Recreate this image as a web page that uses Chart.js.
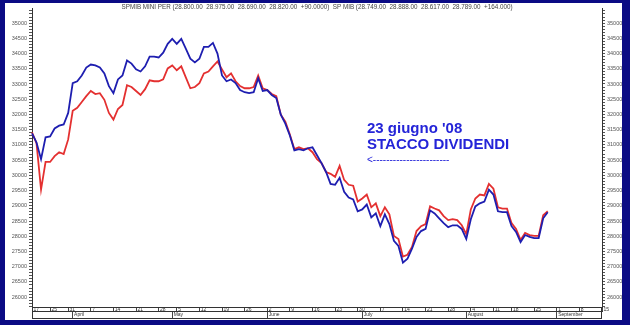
<!DOCTYPE html>
<html>
<head>
<meta charset="utf-8">
<script src="https://cdn.jsdelivr.net/npm/chart.js@4.4.1/dist/chart.umd.min.js"></script>
<style>
  html, body { margin: 0; padding: 0; background: #0b0b84; width: 630px; height: 325px; overflow: hidden; }
  #frame { position: absolute; left: 5px; top: 3px; width: 617px; height: 317px; background: #fff; }
</style>
</head>
<body>
<div id="frame"><canvas id="chart" width="617" height="317"></canvas></div>
<script>
// trading calendar (Borsa Italiana, 2008)
const firstDay = [2008, 2, 17];
const lastDay = [2008, 8, 15];
const holidays = ['2008-03-21', '2008-03-24', '2008-05-01', '2008-08-15'];
const monthNames = ['January', 'February', 'March', 'April', 'May', 'June', 'July',
                    'August', 'September', 'October', 'November', 'December'];

// y axis ticks
const yMin = 25676, yMax = 35486;
const yTickFrom = 25700, yTickTo = 35400, yTickStep = 100, yLabelEvery = 500;

// S&P MIB index (blue)
const spmib = [
  31380, 31080, 30530, 31250, 31280, 31540, 31630, 31670, 32050, 33030,
  33090, 33280, 33540, 33640, 33610, 33540, 33350, 32930, 32700, 33150,
  33280, 33770, 33670, 33480, 33410, 33580, 33900, 33900, 33870, 34030,
  34320, 34480, 34320, 34480, 34160, 33830, 33710, 33830, 34220, 34220,
  34350, 34000, 33280, 33090, 33150, 33030, 32800, 32730, 32700, 32730,
  33190, 32770, 32800, 32640, 32540, 31990, 31700, 31310, 30820, 30860,
  30820, 30890, 30920, 30660, 30400, 30110, 29720, 29690, 29920, 29460,
  29270, 29210, 28820, 28880, 29040, 28620, 28750, 28330, 28720, 28400,
  27850, 27680, 27130, 27260, 27590, 27980, 28170, 28240, 28850, 28750,
  28590, 28430, 28300, 28360, 28360, 28240, 27910, 28560, 28980, 29080,
  29140, 29530, 29370, 28820, 28790, 28790, 28330, 28140, 27810, 28040,
  27980, 27940, 27940, 28590, 28790
];

// S&P MIB mini future (red)
const miniFuture = [
  31410, 31050, 29530, 30440, 30440, 30630, 30760, 30700, 31180, 32120,
  32220, 32410, 32600, 32770, 32670, 32700, 32480, 32050, 31830, 32180,
  32310, 32960, 32900, 32770, 32640, 32830, 33120, 33090, 33090, 33150,
  33510, 33610, 33450, 33580, 33220, 32860, 32900, 33030, 33350, 33410,
  33580, 33740, 33480, 33220, 33350, 33090, 32930, 32860, 32860, 32900,
  33280, 32860, 32800, 32670, 32600, 31990, 31760, 31340, 30860, 30920,
  30860, 30890, 30760, 30530, 30400, 30110, 30050, 29950, 30310, 29850,
  29690, 29660, 29140, 29240, 29370, 28950, 29080, 28660, 28950, 28720,
  28010, 27910, 27330, 27390, 27650, 28170, 28330, 28400, 28980, 28910,
  28850, 28660, 28530, 28560, 28530, 28360, 28070, 28880, 29240, 29370,
  29340, 29720, 29560, 28950, 28910, 28910, 28430, 28240, 27880, 28110,
  28040, 28010, 28010, 28690, 28820
];

const titleText = 'SPMIB MINI PER (28.800.00  28.975.00  28.690.00  28.820.00  +90.0000)  SP MIB (28.749.00  28.888.00  28.617.00  28.789.00  +164.000)';
const noteLines = ["23 giugno '08", 'STACCO DIVIDENDI'];
const noteArrow = '<-----------------------';

// build the list of trading days
function iso(d) { return d.toISOString().slice(0, 10); }
const tradingDays = [];
for (let d = new Date(Date.UTC(...firstDay)); d <= new Date(Date.UTC(...lastDay)); d.setUTCDate(d.getUTCDate() + 1)) {
    const dow = d.getUTCDay();
    if (dow === 0 || dow === 6 || holidays.includes(iso(d))) continue;
    tradingDays.push(iso(d));
}

function weekStart(s) {
    const d = new Date(s + 'T00:00:00Z');
    d.setUTCDate(d.getUTCDate() - (d.getUTCDay() + 6) % 7);
    return iso(d);
}

const font = '"Liberation Sans", Arial, sans-serif';

// title, note and bottom box drawn over the chart
const overlay = {
    id: 'overlay',
    afterDraw(chart) {
        const { ctx, chartArea } = chart;
        const x2 = chart.scales.x2;
        ctx.save();
        ctx.fillStyle = '#444';
        ctx.font = '6.3px ' + font;
        ctx.textAlign = 'center';
        ctx.textBaseline = 'middle';
        ctx.fillText(titleText, (chartArea.left + chartArea.right) / 2, 4.5);

        ctx.fillStyle = '#2424d8';
        ctx.textAlign = 'left';
        ctx.font = 'bold 15px ' + font;
        ctx.fillText(noteLines[0], 362, 126);
        ctx.fillText(noteLines[1], 362, 142);
        ctx.font = '10px ' + font;
        ctx.fillText(noteArrow, 362, 157);

        ctx.strokeStyle = '#333';
        ctx.lineWidth = 1;
        ctx.beginPath();
        ctx.moveTo(chartArea.left, x2.bottom - 0.5);
        ctx.lineTo(chartArea.right, x2.bottom - 0.5);
        ctx.moveTo(chartArea.left + 0.5, chartArea.bottom);
        ctx.lineTo(chartArea.left + 0.5, x2.bottom);
        ctx.moveTo(chartArea.right - 0.5, chartArea.bottom);
        ctx.lineTo(chartArea.right - 0.5, x2.bottom);
        ctx.stroke();
        ctx.restore();
    }
};

function yAxis(position, width) {
    return {
        type: 'linear',
        position: position,
        min: yMin,
        max: yMax,
        afterBuildTicks: axis => {
            const ticks = [];
            for (let v = yTickFrom; v <= yTickTo; v += yTickStep) ticks.push({ value: v });
            axis.ticks = ticks;
        },
        afterFit: scale => { scale.width = width; },
        border: { color: '#333', width: 1 },
        grid: { drawOnChartArea: false, tickLength: 3, color: '#555' },
        ticks: {
            autoSkip: false,
            padding: 2,
            color: '#555',
            font: { family: font, size: 5.5 },
            callback: v => (v % yLabelEvery === 0 ? String(v) : '')
        }
    };
}

const ctx = document.getElementById('chart').getContext('2d');
new Chart(ctx, {
    type: 'line',
    data: {
        labels: tradingDays,
        datasets: [
            { label: 'SP MIB', data: spmib, borderColor: '#1e1eb0', borderWidth: 1.8, pointRadius: 0, tension: 0, yAxisID: 'y' },
            { label: 'SPMIB MINI', data: miniFuture, borderColor: '#e43030', borderWidth: 1.8, pointRadius: 0, tension: 0, yAxisID: 'y' }
        ]
    },
    options: {
        responsive: false,
        animation: false,
        layout: { padding: { left: 3, right: 0, top: 1, bottom: 1 } },
        plugins: { legend: { display: false }, tooltip: { enabled: false } },
        scales: {
            x: {
                type: 'category',
                position: 'bottom',
                weight: 0,
                afterFit: scale => { scale.height = 4.5; },
                border: { color: '#333', width: 1 },
                grid: { drawOnChartArea: false, tickLength: 4.5, color: '#444', offset: false },
                offset: false,
                ticks: {
                    autoSkip: false,
                    maxRotation: 0,
                    align: 'start',
                    padding: -4.5,
                    color: '#333',
                    font: { family: font, size: 5 },
                    callback: function (value, index) {
                        const day = tradingDays[index];
                        if (index > 0 && weekStart(day) === weekStart(tradingDays[index - 1])) return null;
                        return ' ' + Number(day.slice(8));
                    }
                }
            },
            x2: {
                type: 'category',
                position: 'bottom',
                weight: 1,
                afterFit: scale => { scale.height = 7.5; },
                border: { color: '#333', width: 1 },
                grid: { drawOnChartArea: false, tickLength: 7.5, color: '#444', offset: false },
                offset: false,
                ticks: {
                    autoSkip: false,
                    maxRotation: 0,
                    align: 'start',
                    padding: -7,
                    color: '#333',
                    font: { family: font, size: 5 },
                    callback: function (value, index) {
                        const day = tradingDays[index];
                        if (index === 0 || day.slice(5, 7) === tradingDays[index - 1].slice(5, 7)) return null;
                        return ' ' + monthNames[Number(day.slice(5, 7)) - 1];
                    }
                }
            },
            y: yAxis('left', 24),
            y2: yAxis('right', 20)
        }
    },
    plugins: [overlay]
});
</script>
</body>
</html>
